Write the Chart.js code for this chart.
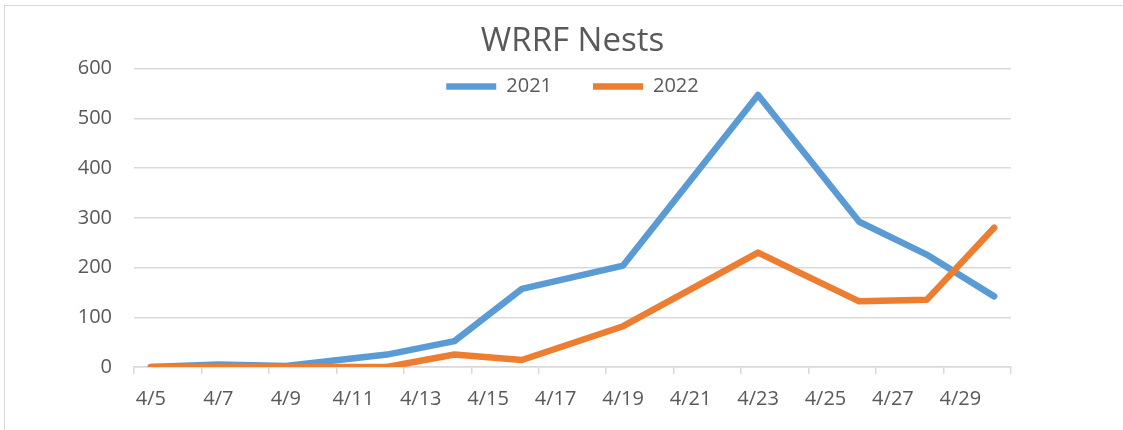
<!DOCTYPE html>
<html>
<head>
<meta charset="utf-8">
<script src="https://cdn.jsdelivr.net/npm/chart.js@4"></script>
<style>
  html, body { margin: 0; padding: 0; background: #ffffff; overflow: hidden; }
  #frame { position: absolute; left: 4px; top: 5px; width: 1200px; height: 500px;
           border-top: 1px solid #d9d9d9; border-left: 1px solid #d9d9d9; }
  #wrap { position: absolute; left: 0; top: 0; width: 1123px; height: 430px; }
</style>
</head>
<body>
<div id="frame"></div>
<div id="wrap"><canvas id="c" width="1123" height="430"></canvas></div>
<script>
// ---- data ----
const dayLabels = ['4/5','4/6','4/7','4/8','4/9','4/10','4/11','4/12','4/13','4/14','4/15','4/16','4/17',
                   '4/18','4/19','4/20','4/21','4/22','4/23','4/24','4/25','4/26','4/27','4/28','4/29','4/30'];
const xTickLabels = ['4/5','4/7','4/9','4/11','4/13','4/15','4/17','4/19','4/21','4/23','4/25','4/27','4/29'];
const sampleDates = ['4/5','4/7','4/9','4/12','4/14','4/16','4/19','4/23','4/26','4/28','4/30'];
const nests2021 = [0, 5, 2, 25, 52, 157, 204, 547, 292, 226, 142];
const nests2022 = [0, 0, 0, 0, 25, 14, 82, 230, 132, 135, 280];
const seriesNames = ['2021', '2022'];
const yTickValues = [0, 100, 200, 300, 400, 500, 600];

const FONT = "'Open Sans', 'DejaVu Sans', sans-serif";
const TXT = '#595959';
const GRID = '#d9d9d9';

const toPoints = (vals) => sampleDates.map((d, i) => ({ x: d, y: vals[i] }));

const legendMover = {
  id: 'legendMover',
  afterLayout(chart) {
    const lg = chart.legend;
    if (!lg) return;
    const pad = chart.options.plugins.legend.labels.padding;
    const top = chart.chartArea.top + 18 - 10 - pad;
    lg.top = top;
    lg.height = 80;
    lg.bottom = top + 80;
  }
};

new Chart(document.getElementById('c'), {
  type: 'line',
  data: {
    labels: dayLabels,
    datasets: [
      { label: seriesNames[0], data: toPoints(nests2021), borderColor: '#5B9BD5', backgroundColor: '#5B9BD5',
        borderWidth: 6.5, pointRadius: 0, pointHoverRadius: 0, tension: 0, spanGaps: true,
        borderCapStyle: 'round', borderJoinStyle: 'round', order: 1 },
      { label: seriesNames[1], data: toPoints(nests2022), borderColor: '#ED7D31', backgroundColor: '#ED7D31',
        borderWidth: 6.5, pointRadius: 0, pointHoverRadius: 0, tension: 0, spanGaps: true,
        borderCapStyle: 'round', borderJoinStyle: 'round', order: 0 }
    ]
  },
  options: {
    responsive: false,
    animation: false,
    devicePixelRatio: 1,
    layout: { padding: { left: 0, right: 112, top: 0, bottom: 6 } },
    plugins: {
      title: {
        display: true, text: 'WRRF Nests', fullSize: false,
        color: TXT, font: { family: FONT, size: 33, weight: 'normal' },
        padding: { top: 22, bottom: 6 }
      },
      legend: {
        display: true, position: 'top', fullSize: false, maxHeight: 1,
        labels: {
          usePointStyle: true, pointStyle: 'line', pointStyleWidth: 50,
          padding: 41, color: TXT, font: { family: FONT, size: 20 },
          sort: (a, b) => a.datasetIndex - b.datasetIndex
        }
      },
      tooltip: { enabled: false }
    },
    scales: {
      x: {
        type: 'category',
        offset: true,
        grid: {
          display: true, offset: true, drawOnChartArea: false, drawTicks: true, tickLength: 7,
          lineWidth: 1.5,
          color: (c) => (c.index === undefined || c.index % 2 === 0) ? GRID : 'rgba(0,0,0,0)'
        },
        border: { display: true, color: GRID, width: 1.5 },
        ticks: {
          autoSkip: false, maxRotation: 0, minRotation: 0, padding: 13,
          color: TXT, font: { family: FONT, size: 20 },
          callback: function (value, index) {
            const lab = dayLabels[index];
            return xTickLabels.includes(lab) ? lab : '';
          }
        }
      },
      y: {
        min: yTickValues[0], max: yTickValues[yTickValues.length - 1],
        afterFit: (s) => { s.width = 134; },
        afterBuildTicks: (s) => { s.ticks = yTickValues.map(v => ({ value: v })); },
        grid: { color: GRID, lineWidth: 1.5, drawTicks: false },
        border: { display: false },
        ticks: { padding: 22, color: TXT, font: { family: FONT, size: 20 } }
      }
    }
  },
  plugins: [legendMover]
});
</script>
</body>
</html>
